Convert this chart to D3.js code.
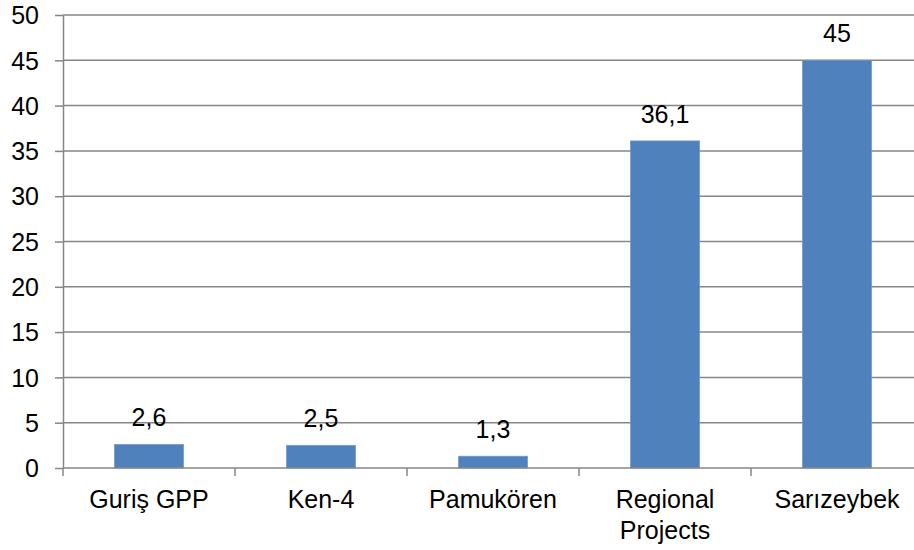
<!DOCTYPE html>
<html lang="en">
<head>
  <meta charset="UTF-8">
  <title>Bar chart</title>
  <script src="https://d3js.org/d3.v7.min.js"></script>
  <style>
    body { margin: 0; background: #fff; }
    svg { display: block; font-family: "Liberation Sans", Arial, sans-serif; }
    .grid line { stroke: #868686; stroke-width: 1.5; }
    .axis path, .axis line { stroke: #868686; stroke-width: 1.5; }
    .axis text { font-size: 25px; fill: #000; }
    .label { font-size: 25px; fill: #000; text-anchor: middle; }
  </style>
</head>
<body>
  <svg width="914" height="550"></svg>
  <script>
    const categories = ["Guriş GPP", "Ken-4", "Pamukören", "Regional Projects", "Sarızeybek"];
    const values = [2.6, 2.5, 1.3, 36.1, 45];
    const valueLabels = ["2,6", "2,5", "1,3", "36,1", "45"];
    const yTicks = [0, 5, 10, 15, 20, 25, 30, 35, 40, 45, 50];

    const svg = d3.select("svg");
    const margin = { top: 15, left: 63, bottom: 82 };
    const plotW = 172 * 5;
    const height = 550 - margin.top - margin.bottom;

    const chart = svg.append("g")
      .attr("transform", `translate(${margin.left},${margin.top})`);

    const x = d3.scaleBand().domain(categories).range([0, plotW]).paddingInner(0.6).paddingOuter(0.3);
    const y = d3.scaleLinear().domain([0, 50]).range([height, 0]);

    // gridlines
    chart.append("g").attr("class", "grid")
      .selectAll("line").data(yTicks.slice(1)).enter().append("line")
      .attr("x1", 0).attr("x2", plotW)
      .attr("y1", d => y(d)).attr("y2", d => y(d));

    chart.selectAll(".bar").data(values).enter().append("rect")
      .attr("class", "bar")
      .attr("x", (d, i) => x(categories[i]))
      .attr("y", d => y(d))
      .attr("width", x.bandwidth())
      .attr("height", d => height - y(d))
      .attr("fill", "#4F81BD")
      .attr("stroke", "#6f98cc")
      .attr("stroke-width", 0.8);

    chart.selectAll(".label").data(values).enter().append("text")
      .attr("class", "label")
      .attr("x", (d, i) => x(categories[i]) + x.bandwidth() / 2)
      .attr("y", d => y(d) - 18)
      .text((d, i) => valueLabels[i]);

    // y axis
    const yAxis = chart.append("g").attr("class", "axis")
      .call(d3.axisLeft(y).tickValues(yTicks).tickSize(8).tickPadding(16).tickSizeOuter(0));
    yAxis.selectAll("text").attr("dy", "0.35em");

    // x axis, ticks at category boundaries
    const xAxis = chart.append("g").attr("class", "axis")
      .attr("transform", `translate(0,${height})`);
    xAxis.append("line").attr("x1", 0).attr("x2", plotW).attr("y1", 0).attr("y2", 0);
    const step = plotW / categories.length;
    xAxis.selectAll(".tk").data(d3.range(categories.length + 1)).enter().append("line")
      .attr("x1", i => i * step).attr("x2", i => i * step)
      .attr("y1", 0).attr("y2", 8);

    const xl = xAxis.selectAll(".xl").data(categories).enter().append("text")
      .attr("text-anchor", "middle")
      .attr("x", d => x(d) + x.bandwidth() / 2)
      .attr("y", 40)
      .style("font-size", "25px");
    xl.each(function(d) {
      const words = d === "Regional Projects" ? ["Regional", "Projects"] : [d];
      const t = d3.select(this);
      words.forEach((w, k) => {
        t.append("tspan").attr("x", t.attr("x")).attr("dy", k === 0 ? 0 : 31).text(w);
      });
    });
  </script>
</body>
</html>
